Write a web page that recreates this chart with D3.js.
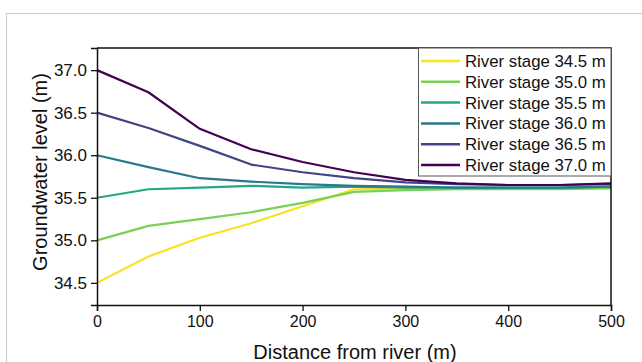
<!DOCTYPE html>
<html>
<head>
<meta charset="utf-8">
<script src="https://cdn.jsdelivr.net/npm/d3@7"></script>
<style>
  html, body { margin: 0; padding: 0; background: #fff; }
  svg { display: block; font-family: Arial, "Liberation Sans", sans-serif; }
</style>
</head>
<body>
<svg id="chart" width="642" height="362"></svg>
<script>
// Distance from the river (m)
const distances = [0, 50, 100, 150, 200, 250, 300, 350, 400, 450, 500];

// Groundwater level (m) for each river stage
const stage345 = [34.50, 34.81, 35.03, 35.20, 35.40, 35.60, 35.61, 35.61, 35.61, 35.61, 35.62];
const stage350 = [35.00, 35.17, 35.25, 35.33, 35.44, 35.57, 35.59, 35.60, 35.60, 35.60, 35.61];
const stage355 = [35.50, 35.60, 35.62, 35.64, 35.62, 35.63, 35.62, 35.62, 35.62, 35.62, 35.63];
const stage360 = [36.00, 35.86, 35.73, 35.69, 35.66, 35.64, 35.63, 35.62, 35.62, 35.62, 35.63];
const stage365 = [36.50, 36.32, 36.11, 35.89, 35.80, 35.73, 35.68, 35.66, 35.65, 35.65, 35.66];
const stage370 = [37.00, 36.74, 36.31, 36.07, 35.92, 35.80, 35.71, 35.67, 35.65, 35.65, 35.67];

const seriesNames = ["River stage 34.5 m", "River stage 35.0 m", "River stage 35.5 m",
                     "River stage 36.0 m", "River stage 36.5 m", "River stage 37.0 m"];
const seriesValues = [stage345, stage350, stage355, stage360, stage365, stage370];
const seriesColors = ["#f7e31e", "#7ad151", "#22a884", "#2a788e", "#414487", "#440154"];

const xTicks = [0, 100, 200, 300, 400, 500];
const yTicks = [34.5, 35.0, 35.5, 36.0, 36.5, 37.0];

const svg = d3.select("#chart");

// outer panel frame
svg.append("rect")
  .attr("x", 6.5).attr("y", 13.5)
  .attr("width", 700).attr("height", 400)
  .attr("fill", "none").attr("stroke", "#cfcfcf").attr("stroke-width", 1.2);

const plot = { left: 97, right: 611, top: 48, bottom: 305 };

const x = d3.scaleLinear().domain([0, 500]).range([plot.left, plot.right]);
const y = d3.scaleLinear().domain([34.24, 37.26]).range([plot.bottom, plot.top]);

// data lines
const line = d3.line()
  .x((d, i) => x(distances[i]))
  .y(d => y(d));

svg.append("g").selectAll("path")
  .data(seriesValues)
  .join("path")
  .attr("d", d => line(d))
  .attr("fill", "none")
  .attr("stroke", (d, i) => seriesColors[i])
  .attr("stroke-width", 2.2)
  .attr("stroke-linejoin", "round");

// frame on top and right
svg.append("path")
  .attr("d", `M${plot.left},${plot.top}H${plot.right}V${plot.bottom}`)
  .attr("fill", "none").attr("stroke", "#111").attr("stroke-width", 1.5);

// x axis
const xAxis = svg.append("g").attr("transform", `translate(0,${plot.bottom})`);
xAxis.call(d3.axisBottom(x).tickValues(d3.range(50, 500, 100)).tickSize(3.5).tickFormat(""));
xAxis.call(d3.axisBottom(x).tickValues(xTicks).tickSize(6).tickPadding(5).tickFormat(d3.format("d")));
xAxis.selectAll(".domain").attr("stroke", "#111").attr("stroke-width", 1.5);
xAxis.selectAll(".tick line").attr("stroke", "#111").attr("stroke-width", 1.3);
xAxis.selectAll(".tick text").attr("font-size", 16).attr("fill", "#111")
  .attr("font-family", "Arial, 'Liberation Sans', sans-serif");

// y axis
const yAxis = svg.append("g").attr("transform", `translate(${plot.left},0)`);
yAxis.call(d3.axisLeft(y).tickValues([34.25, 34.75, 35.25, 35.75, 36.25, 36.75, 37.25]).tickSize(3.5).tickFormat(""));
yAxis.call(d3.axisLeft(y).tickValues(yTicks).tickSize(6).tickPadding(4).tickFormat(d3.format(".1f")));
yAxis.selectAll(".domain").attr("stroke", "#111").attr("stroke-width", 1.5);
yAxis.selectAll(".tick line").attr("stroke", "#111").attr("stroke-width", 1.3);
yAxis.selectAll(".tick text").attr("font-size", 17).attr("fill", "#111")
  .attr("font-family", "Arial, 'Liberation Sans', sans-serif");

// axis titles
svg.append("text")
  .attr("x", 355).attr("y", 359)
  .attr("text-anchor", "middle").attr("font-size", 20).attr("fill", "#111")
  .text("Distance from river (m)");

svg.append("text")
  .attr("transform", `translate(47,172) rotate(-90)`)
  .attr("text-anchor", "middle").attr("font-size", 20).attr("fill", "#111")
  .text("Groundwater level (m)");

// legend
const legend = svg.append("g");
legend.append("rect")
  .attr("x", 418.5).attr("y", 48).attr("width", 192.5).attr("height", 128)
  .attr("fill", "#fff").attr("stroke", "#555").attr("stroke-width", 1);

const rows = legend.selectAll("g.row")
  .data(seriesNames)
  .join("g")
  .attr("class", "row")
  .attr("transform", (d, i) => `translate(0,${61 + i * 20.8})`);

rows.append("line")
  .attr("x1", 421).attr("x2", 460).attr("y1", 0).attr("y2", 0)
  .attr("stroke", (d, i) => seriesColors[i]).attr("stroke-width", 2.5);

rows.append("text")
  .attr("x", 465).attr("y", 0).attr("dy", "0.36em")
  .attr("font-size", 16.8).attr("fill", "#111")
  .text(d => d);
</script>
</body>
</html>
